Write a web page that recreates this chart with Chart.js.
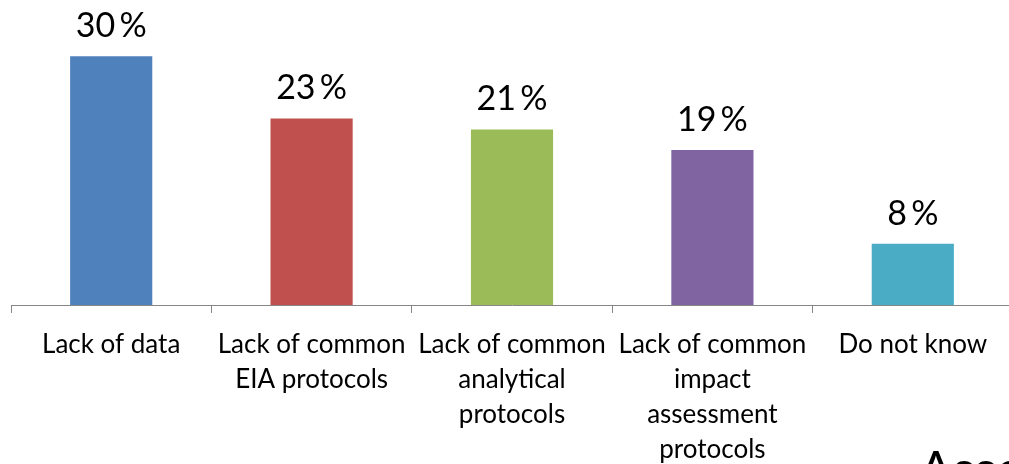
<!DOCTYPE html>
<html>
<head>
<meta charset="utf-8">
<script src="https://cdn.jsdelivr.net/npm/chart.js@4.4.1/dist/chart.umd.min.js"></script>
<style>
  html, body { margin: 0; padding: 0; background: #ffffff; overflow: hidden; width: 1009px; height: 464px; }
  #wrap { position: absolute; left: 0; top: 0; width: 1013px; height: 464px; }
  #overlay { position: absolute; left: 919px; top: 443px; font-family: Lato, sans-serif; font-size: 50px; line-height: 1; color: #000; white-space: nowrap; }
</style>
</head>
<body>
<div id="wrap"><canvas id="c"></canvas></div>
<div id="overlay">Assessment</div>
<script>
const categories = [
  ["Lack of data"],
  ["Lack of common", "EIA protocols"],
  ["Lack of common", "analytical", "protocols"],
  ["Lack of common", "impact", "assessment", "protocols"],
  ["Do not know"]
];
const values = [30, 22.7, 21.4, 19, 8];
const barColors = ["#4F81BD", "#C0504D", "#9BBB59", "#8064A2", "#4BACC6"];

const valueLabelPlugin = {
  id: 'valueLabels',
  afterDatasetsDraw(chart) {
    const ctx = chart.ctx;
    const meta = chart.getDatasetMeta(0);
    ctx.save();
    ctx.font = '34px Lato, sans-serif';
    ctx.fillStyle = '#000000';
    ctx.textAlign = 'center';
    ctx.textBaseline = 'alphabetic';
    meta.data.forEach((bar, i) => {
      ctx.fillText(Math.round(values[i]) + '\u2009%', bar.x, bar.y - 19);
    });
    ctx.restore();
  }
};

new Chart(document.getElementById('c'), {
  type: 'bar',
  data: {
    labels: categories,
    datasets: [{
      data: values,
      backgroundColor: barColors,
      borderWidth: 0,
      barPercentage: 0.41,
      categoryPercentage: 1
    }]
  },
  options: {
    responsive: true,
    maintainAspectRatio: false,
    animation: false,
    devicePixelRatio: 1,
    layout: { padding: { left: 11, right: 0, top: 0, bottom: 0 } },
    plugins: { legend: { display: false }, tooltip: { enabled: false } },
    scales: {
      x: {
        offset: true,
        grid: { display: true, drawOnChartArea: false, drawTicks: true, tickLength: 8, color: '#868686', offset: true },
        border: { display: true, color: '#868686', width: 1 },
        ticks: {
          autoSkip: false, maxRotation: 0, minRotation: 0,
          color: '#000000',
          font: { family: 'Lato, sans-serif', size: 26, lineHeight: 1.35 },
          padding: 14
        },
        afterFit(scale) { scale.height = 159; }
      },
      y: {
        display: false,
        min: 0.8,
        max: 36.6
      }
    }
  },
  plugins: [valueLabelPlugin]
});
</script>
</body>
</html>
